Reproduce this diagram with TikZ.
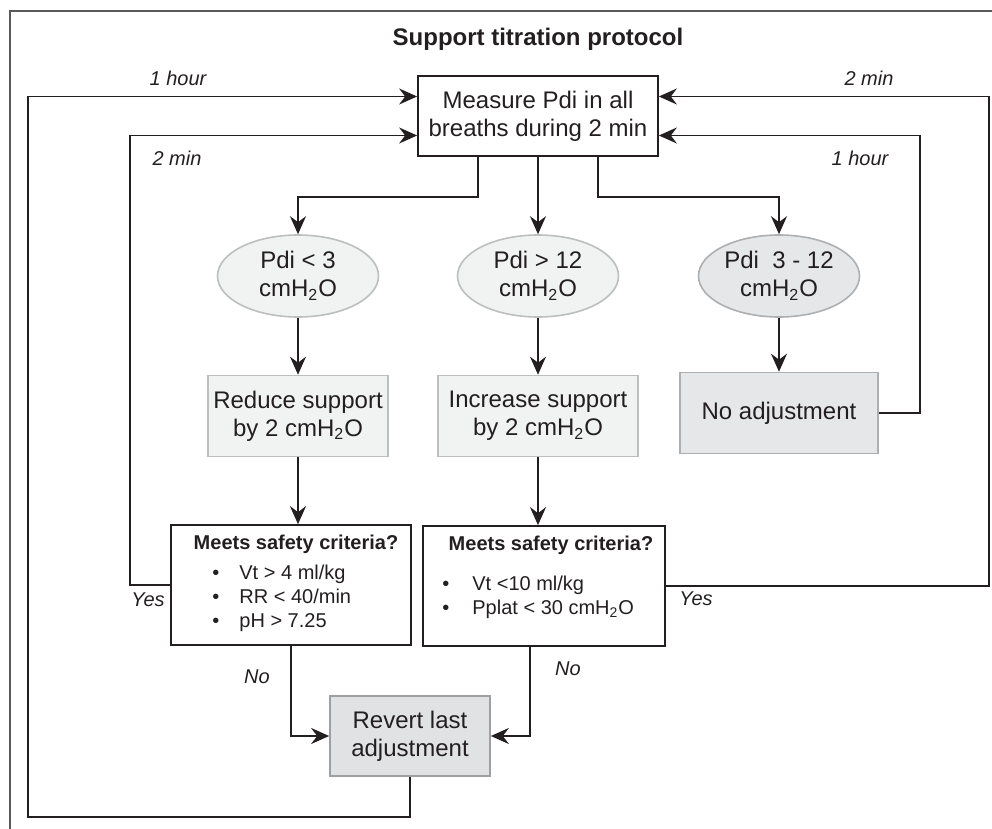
\documentclass[tikz,border=0pt]{standalone}
\usepackage{fontspec}
\setmainfont{Liberation Sans}
\usepackage{xcolor}
\usetikzlibrary{positioning, shapes.geometric, arrows.meta}
\definecolor{ink}{HTML}{231F20}
\definecolor{lightfill}{HTML}{F1F2F2}
\definecolor{lightdraw}{HTML}{BCBEC0}
\definecolor{midfill}{HTML}{E6E7E8}
\definecolor{middraw}{HTML}{ADAFB1}
\definecolor{darkfill}{HTML}{E1E2E3}
\definecolor{darkdraw}{HTML}{9D9FA2}
\definecolor{framecol}{HTML}{58595B}
\newcommand\ch{cmH\textsubscript{2}O}

\begin{document}
\begin{tikzpicture}[x=0.5pt, y=-0.5pt,
    every node/.style={text=ink, font=\fontsize{12}{14}\selectfont},
    box/.style={rectangle, draw=ink, line width=0.85pt, inner sep=0pt, align=center},
    adjbox/.style={rectangle, draw=lightdraw, fill=lightfill, line width=0.8pt,
                   inner sep=0pt, align=center, minimum height=40.5pt},
    pdi/.style={ellipse, draw=lightdraw, fill=lightfill, line width=0.8pt,
                inner sep=0pt, align=center, minimum width=80.5pt, minimum height=41pt},
    crithead/.style={anchor=base, inner sep=0pt, font=\bfseries\fontsize{10}{12}\selectfont},
    critlist/.style={anchor=base west, inner sep=0pt, font=\fontsize{10}{12}\selectfont},
    lbl/.style={anchor=base, inner sep=0pt, font=\itshape\fontsize{10}{12}\selectfont},
    link/.style={draw=ink, line width=0.9pt, -{Stealth[length=9pt, width=8pt, inset=3pt]}},
    plain/.style={draw=ink, line width=0.9pt}]

  \useasboundingbox (0,0) rectangle (992,829);
  % frame (cut off at right and bottom)
  \draw[framecol, line width=0.7pt] (10,829) -- (10,11) -- (992,11);

  % title and first step
  \node[crithead, font=\bfseries\fontsize{12}{14}\selectfont] (title) at (538,46) {Support titration protocol};
  \node[box, minimum width=120pt, minimum height=40pt] (measure) at (538,116)
       {Measure Pdi in all\\breaths during 2 min};

  % the three Pdi ranges
  \node[pdi] (pdilow) at (298,276) {Pdi < 3\\\ch};
  \node[pdi] (pdihigh) at (538,276) {Pdi > 12\\\ch};
  \node[pdi, fill=midfill, draw=middraw] (pdimid) at (779,276) {Pdi\ \ 3 - 12\\\ch};

  % what to do with the support
  \node[adjbox, minimum width=90pt] (reduce) at (298,416) {Reduce support\\by 2 \ch};
  \node[adjbox, minimum width=100pt] (increase) at (538,416) {Increase support\\by 2 \ch};
  \node[adjbox, fill=midfill, draw=middraw, minimum width=99pt] (noadj) at (779,413) {No adjustment};

  % safety checks
  \node[box, minimum width=120pt, minimum height=60pt] (crit1) at (291,585) {};
  \node[crithead] (crit1head) at (296,549) {Meets safety criteria?};
  \node[critlist] (crit1list) at (212,579)
       {\begin{tabular}[t]{@{}l@{\hspace{10pt}}l@{}}
        \textbullet & Vt > 4 ml/kg\\
        \textbullet & RR < 40/min\\
        \textbullet & pH > 7.25
        \end{tabular}};
  \node[box, minimum width=121pt, minimum height=60pt] (crit2) at (544,586) {};
  \node[crithead] (crit2head) at (551,550) {Meets safety criteria?};
  \node[critlist] (crit2list) at (442,590)
       {\begin{tabular}[t]{@{}l@{\hspace{11.5pt}}l@{}}
        \textbullet & Vt <10 ml/kg\\
        \textbullet & Pplat < 30 \ch
        \end{tabular}};

  \node[box, fill=darkfill, draw=darkdraw, minimum width=80pt, minimum height=40pt] (revert) at (410,736)
       {Revert last\\adjustment};

  % branches out of the measurement
  \draw[link] ([xshift=-30pt]measure.south) -- ++(0,40) -| (pdilow.north);
  \draw[link] (measure.south) -- (pdihigh.north);
  \draw[link] ([xshift=30pt]measure.south) -- ++(0,40) -| (pdimid.north);

  \draw[link] (pdilow.south) -- (reduce.north);
  \draw[link] (pdihigh.south) -- (increase.north);
  \draw[link] (pdimid.south) -- (noadj.north);

  \draw[link] (reduce.south) -- (reduce.south |- crit1.north);
  \draw[link] (increase.south) -- (increase.south |- crit2.north);

  % failed checks
  \draw[link] (crit1.south) |- (revert.west);
  \draw[link] ([xshift=-7pt]crit2.south) |- (revert.east);

  % loops back to the measurement
  \draw[link] (revert.south) -- ++(0,40) -- ++(-382,0) |- ([yshift=9.75pt]measure.west);
  \draw[link] (crit1.west) -- ++(-40,0) |- ([yshift=-9.75pt]measure.west);
  \draw[link] (crit2.east) -- ++(323,0) |- ([yshift=9.75pt]measure.east);
  \draw[link] (noadj.east) -- ++(41,0) |- ([yshift=-9.75pt]measure.east);

  % labels on the loops
  \node[lbl] (hourleft) at (178,86) {1 hour};
  \node[lbl] (minleft) at (177,166) {2 min};
  \node[lbl] (minright) at (869,86) {2 min};
  \node[lbl] (hourright) at (860,166) {1 hour};
  \node[lbl] (yesleft) at (148,606) {Yes};
  \node[lbl] (yesright) at (696,605) {Yes};
  \node[lbl] (noleft) at (257,683) {No};
  \node[lbl] (noright) at (568,675) {No};
\end{tikzpicture}
\end{document}
